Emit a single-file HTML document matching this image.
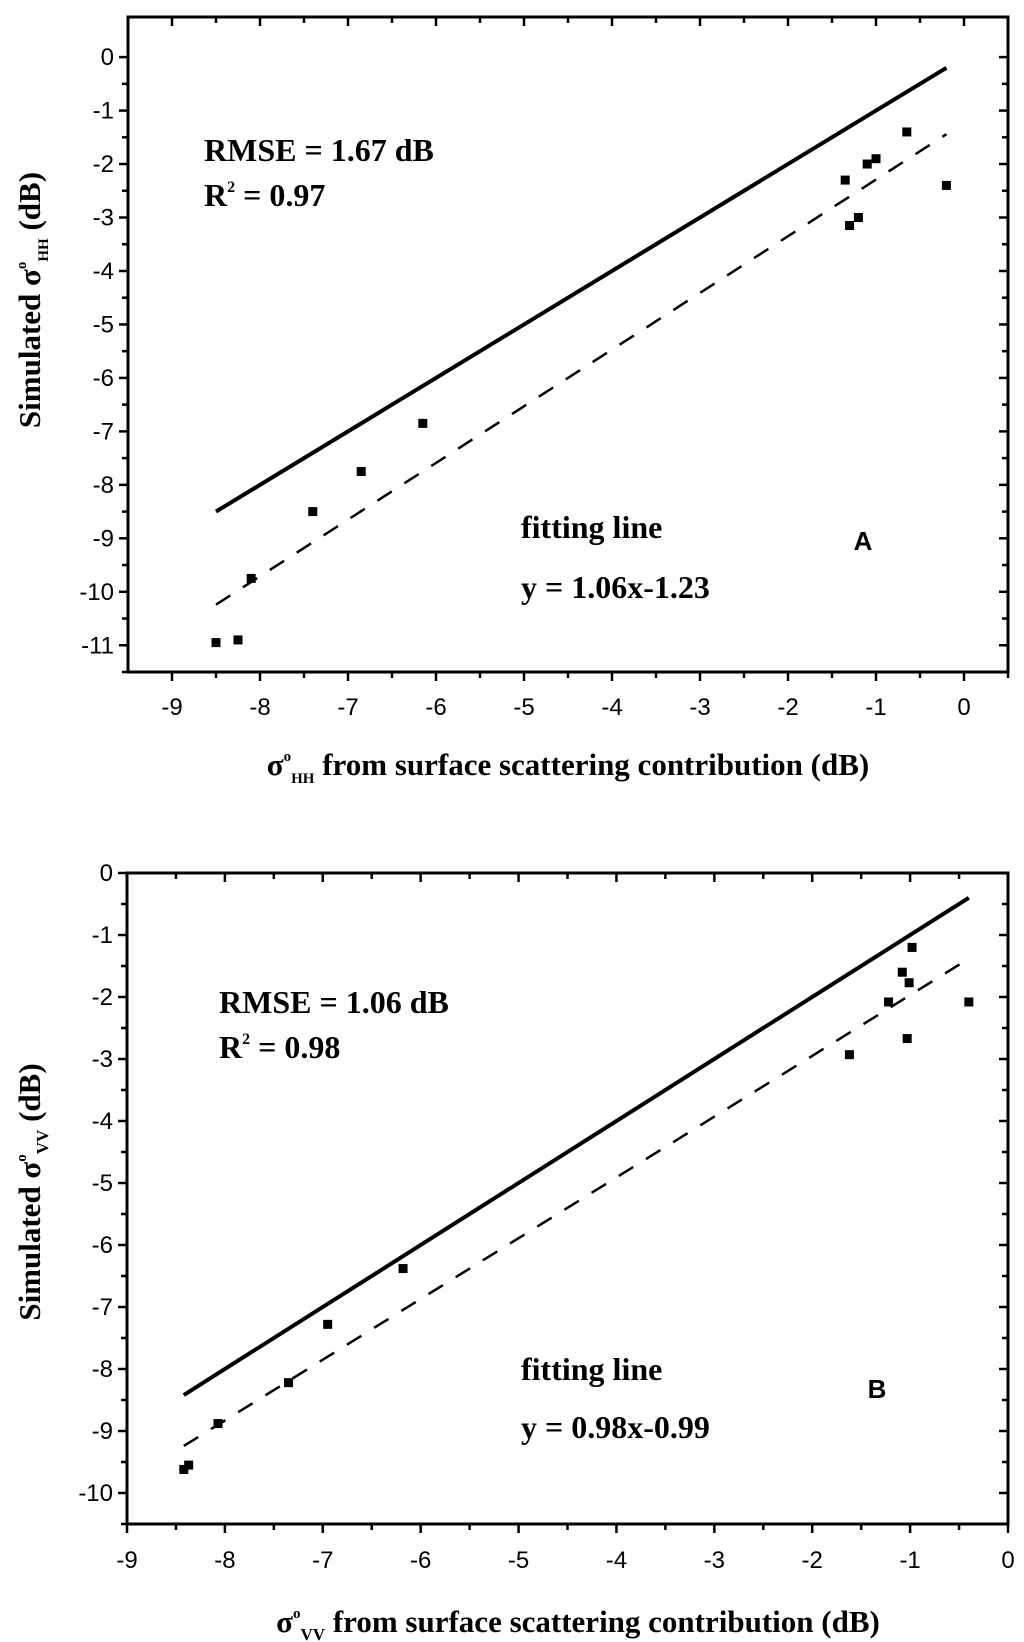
<!DOCTYPE html>
<html><head><meta charset="utf-8"><style>
html,body{margin:0;padding:0;background:#fff;}
svg{display:block;}
.tk{font-family:"Liberation Sans",sans-serif;font-size:24px;fill:#000;}
.sr{font-family:"Liberation Serif",serif;font-weight:bold;fill:#000;}
</style></head><body>
<svg id="c" width="1024" height="1642" viewBox="0 0 1024 1642" xmlns="http://www.w3.org/2000/svg"></svg>
<script>
const hhX = [-8.5,-8.25,-8.1,-7.4,-6.85,-6.15,-1.35,-1.3,-1.2,-1.1,-1.0,-0.65,-0.2];
const hhY = [-10.95,-10.9,-9.75,-8.5,-7.75,-6.85,-2.3,-3.15,-3.0,-2.0,-1.9,-1.4,-2.4];
const vvX = [-8.42,-8.37,-8.07,-7.35,-6.95,-6.18,-1.62,-1.22,-1.08,-1.03,-1.01,-0.98,-0.4];
const vvY = [-9.62,-9.55,-8.88,-8.22,-7.28,-6.38,-2.93,-2.08,-1.6,-2.67,-1.77,-1.2,-2.08];
const hhXTicks = [-9,-8,-7,-6,-5,-4,-3,-2,-1,0];
const hhYTicks = [0,-1,-2,-3,-4,-5,-6,-7,-8,-9,-10,-11];
const vvXTicks = [-9,-8,-7,-6,-5,-4,-3,-2,-1,0];
const vvYTicks = [0,-1,-2,-3,-4,-5,-6,-7,-8,-9,-10];
const hhFit = [1.06,-1.23];
const vvFit = [0.98,-0.99];

const NS="http://www.w3.org/2000/svg";
const svg=document.getElementById('c');
function el(tag,attrs,parent){const e=document.createElementNS(NS,tag);for(const k in attrs)e.setAttribute(k,attrs[k]);(parent||svg).appendChild(e);return e;}

function chart(o){
  const g=el('g',{});
  
  
  const sx=v=>o.L+(v-o.x0)/(o.x1-o.x0)*(o.R-o.L);
  const sy=v=>o.T+(o.y1-v)/(o.y1-o.y0)*(o.B-o.T);
  const fr=el('rect',{x:o.L,y:o.T,width:o.R-o.L,height:o.B-o.T,fill:'none',stroke:'#000','stroke-width':3},g);
  
  
  o.xt.forEach(v=>{
    const x=sx(v);
    el('line',{x1:x,y1:o.B,x2:x,y2:o.B+9,stroke:'#000','stroke-width':2.5},g);
    el('line',{x1:x,y1:o.T,x2:x,y2:o.T+9,stroke:'#000','stroke-width':2.5},g);
    const t=el('text',{x:x,y:o.xly,'text-anchor':'middle',class:'tk'},g);t.textContent=v;
    
    
    const m=v+0.5;
    if(m<=o.x1){const xm=sx(m);
      el('line',{x1:xm,y1:o.B,x2:xm,y2:o.B+6,stroke:'#000','stroke-width':2.5},g);
      el('line',{x1:xm,y1:o.T,x2:xm,y2:o.T+6,stroke:'#000','stroke-width':2.5},g);}
  });
  o.yt.forEach(v=>{
    const y=sy(v);
    el('line',{x1:o.L-9,y1:y,x2:o.L,y2:y,stroke:'#000','stroke-width':2.5},g);
    el('line',{x1:o.R-9,y1:y,x2:o.R,y2:y,stroke:'#000','stroke-width':2.5},g);
    const t=el('text',{x:o.L-14,y:y+8,'text-anchor':'end',class:'tk'},g);t.textContent=v;
    
    
    const m=v-0.5;
    if(m>=o.y0){const ym=sy(m);
      el('line',{x1:o.L-6,y1:ym,x2:o.L,y2:ym,stroke:'#000','stroke-width':2.5},g);
      el('line',{x1:o.R-6,y1:ym,x2:o.R,y2:ym,stroke:'#000','stroke-width':2.5},g);}
  });
  const xs=o.px, ys=o.py;
  const xmin=Math.min(...xs), xmax=Math.max(...xs);
  const l1=el('line',{x1:sx(xmin),y1:sy(xmin),x2:sx(xmax),y2:sy(xmax),stroke:'#000','stroke-width':4},g);
  
  
  const f=x=>o.fit[0]*x+o.fit[1];
  const l2=el('line',{x1:sx(xmin),y1:sy(f(xmin)),x2:sx(xmax),y2:sy(f(xmax)),stroke:'#000','stroke-width':2.5,'stroke-dasharray':'17,15'},g);
  
  
  xs.forEach((x,i)=>{
    const r=el('rect',{x:sx(x)-4.5,y:sy(ys[i])-4.5,width:9,height:9,fill:'#000'},g);
    
    
  });
  return g;
}
chart({name:'chart-hh',L:128,R:1008,T:17,B:672,x0:-9.5,x1:0.5,y0:-11.5,y1:0.75,xt:hhXTicks,yt:hhYTicks,xly:715,px:hhX,py:hhY,fit:hhFit});
chart({name:'chart-vv',L:127,R:1008,T:873,B:1524,x0:-9,x1:0,y0:-10.5,y1:0,xt:vvXTicks,yt:vvYTicks,xly:1568,px:vvX,py:vvY,fit:vvFit});

function txt(x,y,html,name,size,anchor,extra){
  const t=el('text',Object.assign({x:x,y:y,class:'sr','font-size':size,'text-anchor':anchor||'start'},extra||{}));
  t.innerHTML=html;
  
  
  return t;
}
txt(204,161,'RMSE = 1.67 dB','rmse-label-a',32);
txt(204,206,'R<tspan font-size="16" dy="-14">2</tspan><tspan dy="14"> = 0.97</tspan>','r2-label-a',32);
txt(521,538,'fitting line','fitting-line-label-a',32);
txt(521,598,'y = 1.06x-1.23','fit-equation-a',32);
txt(219,1013,'RMSE = 1.06 dB','rmse-label-b',32);
txt(219,1058,'R<tspan font-size="16" dy="-14">2</tspan><tspan dy="14"> = 0.98</tspan>','r2-label-b',32);
txt(521,1380,'fitting line','fitting-line-label-b',32);
txt(521,1438,'y = 0.98x-0.99','fit-equation-b',32);
const A=el('text',{x:863,y:550,'font-family':'Liberation Sans,sans-serif','font-weight':'bold','font-size':26,'text-anchor':'middle'});A.textContent='A';


const B=el('text',{x:877,y:1398,'font-family':'Liberation Sans,sans-serif','font-weight':'bold','font-size':26,'text-anchor':'middle'});B.textContent='B';


txt(568,775,'σ<tspan font-size="15" dy="-14">o</tspan><tspan font-size="15" dy="22">HH</tspan><tspan dy="-8"> from surface scattering contribution (dB)</tspan>','x-axis-title-a',31,'middle');
txt(578,1632,'σ<tspan font-size="15" dy="-14">o</tspan><tspan font-size="17" dy="22">VV</tspan><tspan dy="-8"> from surface scattering contribution (dB)</tspan>','x-axis-title-b',31,'middle');
txt(0,0,'Simulated σ<tspan font-size="15" dy="-14">o</tspan><tspan font-size="15" dy="22">HH</tspan><tspan dy="-8"> (dB)</tspan>','y-axis-title-a',31,'middle',{transform:'translate(40,300) rotate(-90)'});
txt(0,0,'Simulated σ<tspan font-size="15" dy="-14">o</tspan><tspan font-size="17" dy="22">VV</tspan><tspan dy="-8"> (dB)</tspan>','y-axis-title-b',31,'middle',{transform:'translate(40,1192) rotate(-90)'});
</script>
</body></html>
